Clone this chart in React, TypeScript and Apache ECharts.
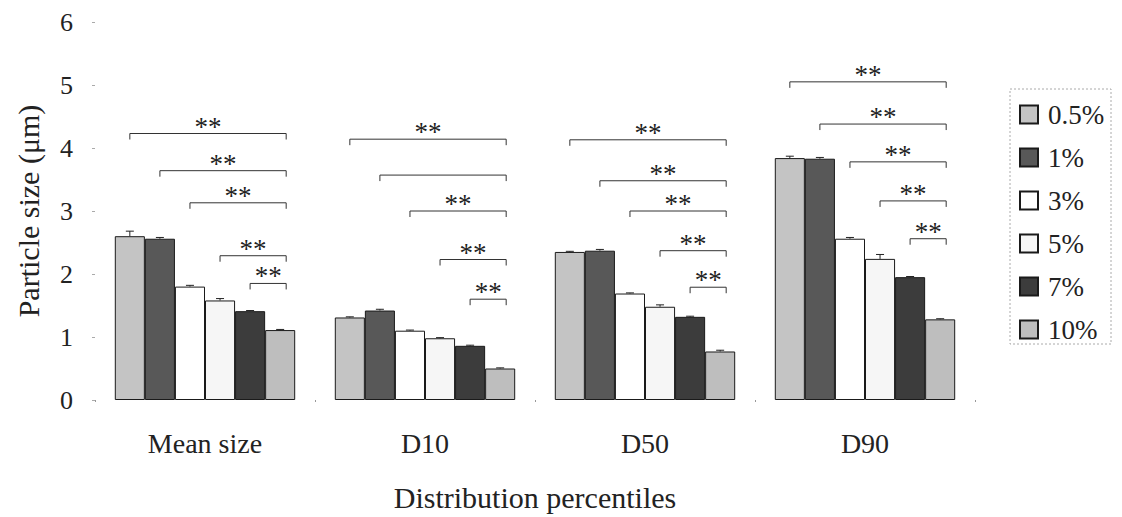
import React, { useEffect, useRef } from 'react';
import * as echarts from 'echarts';

// Distribution percentiles on the x axis, one bar per additive concentration
const categories = ['Mean size', 'D10', 'D50', 'D90'];
const concentrations = ['0.5%', '1%', '3%', '5%', '7%', '10%'];

// particle size (µm) per concentration, in category order
const size05 = [2.6, 1.31, 2.35, 3.84];
const size1 = [2.56, 1.42, 2.37, 3.83];
const size3 = [1.8, 1.1, 1.69, 2.56];
const size5 = [1.58, 0.98, 1.48, 2.24];
const size7 = [1.41, 0.86, 1.32, 1.95];
const size10 = [1.11, 0.5, 0.77, 1.28];

// upper error (standard deviation) per bar
const err05 = [0.08, 0.01, 0.01, 0.03];
const err1 = [0.02, 0.02, 0.02, 0.02];
const err3 = [0.02, 0.01, 0.01, 0.02];
const err5 = [0.03, 0.01, 0.03, 0.07];
const err7 = [0.01, 0.01, 0.01, 0.01];
const err10 = [0.01, 0.01, 0.02, 0.01];

// significance brackets: in every group bars 0..4 are compared with the 10% bar
const bracketFrom = [0, 1, 2, 3, 4];
const bracketTo = 5;
const meanSizeBrackets = [4.23, 3.64, 3.13, 2.29, 1.85];
const d10Brackets = [4.14, 3.57, 3.0, 2.23, 1.6];
const d50Brackets = [4.13, 3.48, 3.0, 2.37, 1.79];
const d90Brackets = [5.05, 4.38, 3.78, 3.16, 2.56];
const meanSizeMarks = ['**', '**', '**', '**', '**'];
const d10Marks = ['**', '', '**', '**', '**'];
const d50Marks = ['**', '**', '**', '**', '**'];
const d90Marks = ['**', '**', '**', '**', '**'];

const sizes = [size05, size1, size3, size5, size7, size10];
const errors = [err05, err1, err3, err5, err7, err10];
const bracketLevels = [meanSizeBrackets, d10Brackets, d50Brackets, d90Brackets];
const bracketMarks = [meanSizeMarks, d10Marks, d50Marks, d90Marks];

const barFills = ['#c4c4c4', '#585858', '#ffffff', '#f6f6f6', '#3c3c3c', '#bebebe'];
const CATEGORY_GAP = 0.18;
const SERIF = 'Liberation Serif';
const INK = '#222222';

function barCenter(api: any, cat: number, bar: number, value: number) {
  const pt = api.coord([cat, value]);
  const band = api.size([1, 0])[0];
  const groupW = band * (1 - CATEGORY_GAP);
  const barW = groupW / concentrations.length;
  return { x: pt[0] - groupW / 2 + (bar + 0.5) * barW, y: pt[1], barW };
}

export default function App() {
  const ref = useRef<HTMLDivElement>(null);

  useEffect(() => {
    if (!ref.current) return;
    const chart = echarts.init(ref.current, undefined, { renderer: 'svg' });

    const errorData: number[][] = [];
    sizes.forEach((vals, s) =>
      vals.forEach((v, c) => errorData.push([c, s, v, errors[s][c]]))
    );

    const bracketData: number[][] = [];
    const bracketText: string[] = [];
    bracketLevels.forEach((levels, c) =>
      levels.forEach((lv, k) => {
        bracketData.push([c, bracketFrom[k], bracketTo, lv]);
        bracketText.push(bracketMarks[c][k]);
      })
    );

    const barSeries = concentrations.map((name, s) => ({
      name,
      type: 'bar',
      data: sizes[s],
      barGap: '0%',
      barCategoryGap: `${CATEGORY_GAP * 100}%`,
      itemStyle: { color: barFills[s], borderColor: '#1a1a1a', borderWidth: 1 },
      z: 2,
    }));

    chart.setOption({
      animation: false,
      backgroundColor: '#ffffff',
      textStyle: { fontFamily: SERIF, color: INK },
      grid: { left: 95, right: 147, top: 22, bottom: 117 },
      legend: {
        data: concentrations,
        orient: 'vertical',
        left: 1014,
        top: 96,
        itemWidth: 18,
        itemHeight: 18,
        itemGap: 16,
        icon: 'rect',
        selectedMode: false,
        textStyle: { fontFamily: SERIF, fontSize: 27, color: INK, lineHeight: 27, padding: [0, 0, 0, 5] },
      },
      xAxis: {
        type: 'category',
        data: categories,
        axisLine: { show: false },
        axisTick: { show: true, length: 2, lineStyle: { color: '#999' } },
        axisLabel: { fontFamily: SERIF, fontSize: 28, color: INK, margin: 29, lineHeight: 28 },
        name: 'Distribution percentiles',
        nameLocation: 'middle',
        nameGap: 82,
        nameTextStyle: { fontFamily: SERIF, fontSize: 30, color: INK, lineHeight: 30 },
      },
      yAxis: {
        type: 'value',
        min: 0,
        max: 6,
        interval: 1,
        splitLine: { show: false },
        axisLine: { show: false },
        axisTick: { show: true, length: 3, lineStyle: { color: '#aaa' } },
        axisLabel: { fontFamily: SERIF, fontSize: 26, color: INK, margin: 22 },
        name: 'Particle size (μm)',
        nameLocation: 'middle',
        nameGap: 52,
        nameTextStyle: { fontFamily: SERIF, fontSize: 30, color: INK, lineHeight: 30 },
      },
      graphic: [
        {
          type: 'rect',
          shape: { x: 1010, y: 89, width: 101, height: 255 },
          style: { fill: 'none', stroke: '#aaa', lineWidth: 1, lineDash: [2, 2] },
          silent: true,
        },
      ],
      series: [
        ...barSeries,
        {
          type: 'custom',
          z: 3,
          silent: true,
          itemStyle: { color: INK },
          encode: { x: 0, y: 2 },
          data: errorData,
          renderItem: (_p: any, api: any) => {
            const c = api.value(0), s = api.value(1), v = api.value(2), e = api.value(3);
            const base = barCenter(api, c, s, v);
            const top = barCenter(api, c, s, v + e);
            const style = { stroke: INK, lineWidth: 1 };
            return {
              type: 'group',
              children: [
                { type: 'line', shape: { x1: base.x, y1: base.y, x2: base.x, y2: top.y }, style },
                { type: 'line', shape: { x1: base.x - 4, y1: top.y, x2: base.x + 4, y2: top.y }, style },
              ],
            };
          },
        },
        {
          type: 'custom',
          z: 4,
          silent: true,
          itemStyle: { color: INK },
          encode: { x: 0, y: 3 },
          data: bracketData,
          renderItem: (p: any, api: any) => {
            const c = api.value(0), from = api.value(1), to = api.value(2), lv = api.value(3);
            const a = barCenter(api, c, from, lv);
            const b = barCenter(api, c, to, lv);
            const x1 = a.x;
            const x2 = b.x + b.barW * 0.2;
            const y = a.y;
            const children: any[] = [
              {
                type: 'polyline',
                shape: { points: [[x1, y + 6], [x1, y], [x2, y], [x2, y + 6]] },
                style: { stroke: '#333333', fill: 'none', lineWidth: 1 },
              },
            ];
            const mark = bracketText[p.dataIndex];
            if (mark) {
              children.push({
                type: 'text',
                x: (x1 + x2) / 2,
                y: y - 7,
                style: {
                  text: mark,
                  fill: INK,
                  fontFamily: SERIF,
                  fontSize: 27,
                  align: 'center',
                  verticalAlign: 'middle',
                },
              });
            }
            return { type: 'group', children };
          },
        },
      ],
    });

    return () => chart.dispose();
  }, []);

  return (
    <div
      ref={ref}
      style={{ position: 'fixed', left: 0, top: 0, width: 1122, height: 517, background: '#fff' }}
    />
  );
}
